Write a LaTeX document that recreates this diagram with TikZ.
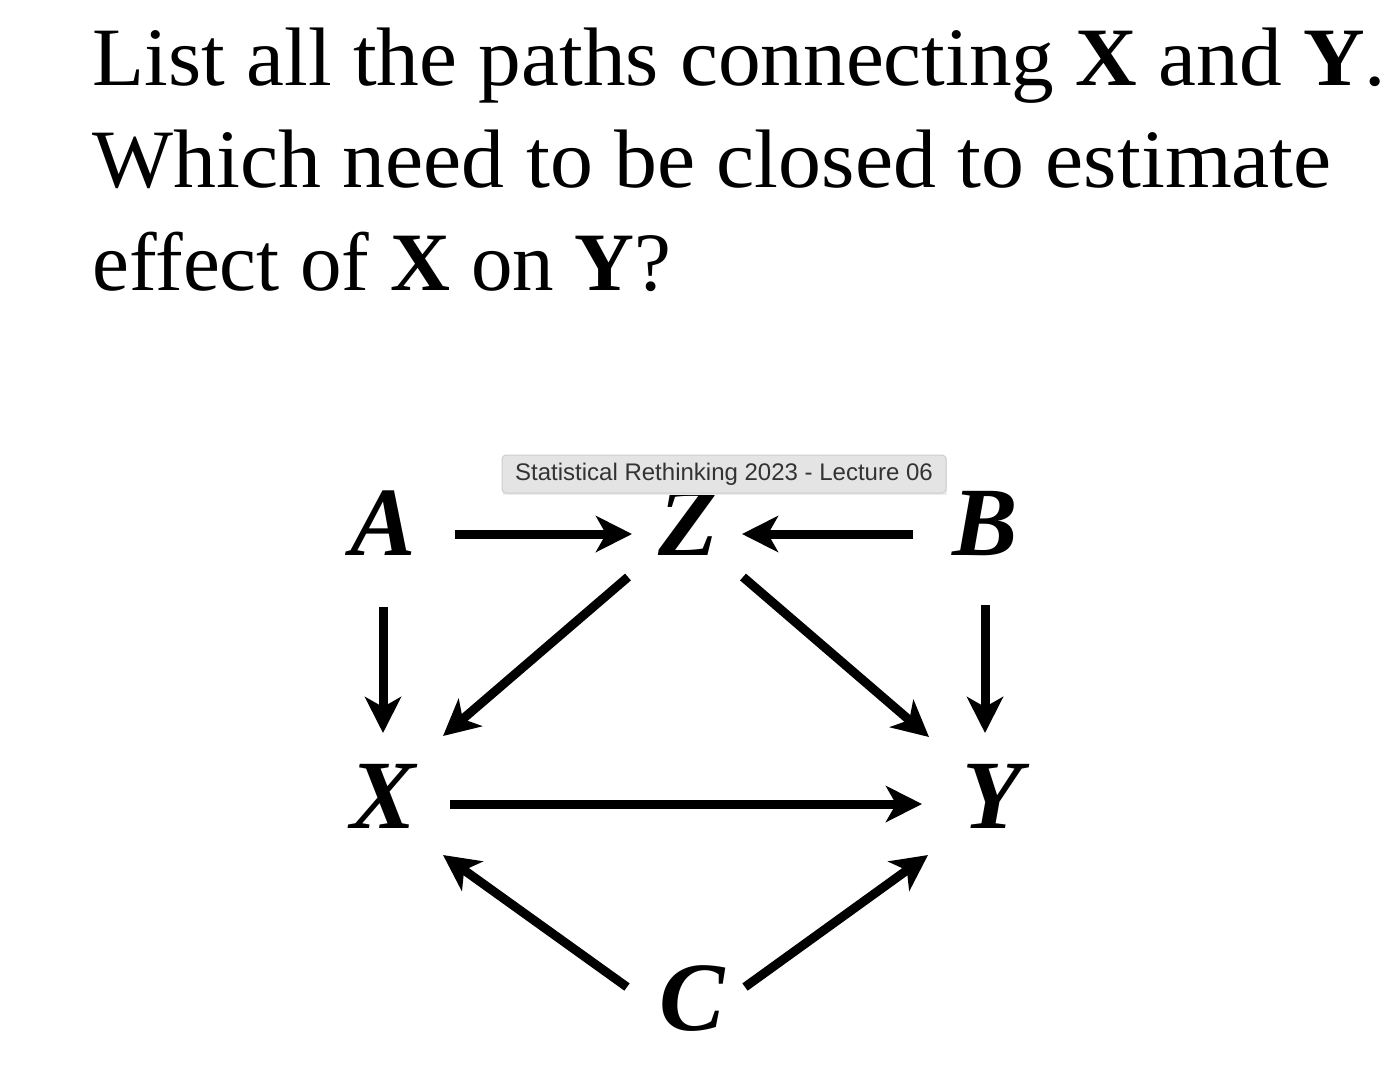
\documentclass[tikz,border=0pt]{standalone}
\usepackage{fontspec}
\setmainfont{Liberation Serif}
\newfontfamily\tipfont{Liberation Sans}
\usetikzlibrary{arrows.meta,calc}
\definecolor{tipfill}{HTML}{E4E4E4}
\definecolor{tipline}{HTML}{CDCDCD}
\definecolor{tiptext}{HTML}{333333}
\begin{document}
\begin{tikzpicture}[x=0.5pt,y=-0.5pt,
  titleline/.style={anchor=base west, inner sep=0pt, font=\fontsize{41.5}{50}\selectfont},
  var/.style={anchor=base, inner sep=0pt, font=\fontsize{49}{58}\selectfont\bfseries\itshape},
  arr/.style={line width=4.5pt, -{Stealth[length=18pt,width=18pt,inset=5pt]}},
  tipbox/.style={draw=tipline, line width=0.5pt, fill=tipfill, rounded corners=2pt,
    minimum width=222pt, minimum height=19pt, inner sep=0pt,
    text=tiptext, font=\tipfont\fontsize{12}{14}\selectfont}]
\useasboundingbox (0,0) rectangle (1400,1084);
\fill[white] (0,0) rectangle (1400,1084);

\node[titleline] (t1) at (92,85) {\scalebox{1.028}[1]{List all the paths connecting \textbf{X} and \textbf{Y}.}};
\node[titleline] (t2) at (92,187) {\scalebox{1.034}[1]{Which need to be closed to estimate}};
\node[titleline] (t3) at (92,290) {\scalebox{1.0}[1]{effect of \textbf{X} on \textbf{Y}?}};

\node[var] (A) at (383,555) {A};
\node[var] (Z) at (688,555) {Z};
\node[var] (B) at (985,555) {B};
\node[var] (X) at (383,828) {X};
\node[var] (Y) at (992,828) {Y};
\node[var] (C) at (692,1030) {C};

\draw[arr] ($(A.base)+(72,-21)$) -- ($(Z.base)+(-56,-21)$);
\draw[arr] ($(B.base)+(-72,-21)$) -- ($(Z.base)+(54,-21)$);
\draw[arr] ($(A.base)+(0,52)$) -- ($(X.base)+(0,-95)$);
\draw[arr] ($(B.base)+(0,50)$) -- ($(Y.base)+(-7,-95)$);
\draw[arr] ($(Z.base)+(-60,22)$) -- ($(X.base)+(60,-92)$);
\draw[arr] ($(Z.base)+(55,22)$) -- ($(Y.base)+(-63,-91)$);
\draw[arr] ($(X.base)+(67,-24)$) -- ($(Y.base)+(-70,-24)$);
\draw[arr] ($(C.base)+(-65,-43)$) -- ($(X.base)+(60,27)$);
\draw[arr] ($(C.base)+(53,-43)$) -- ($(Y.base)+(-64,27)$);

\fill[black!7] (503,457) rectangle (947,495);
\node[tipbox] (tip) at (724,474) {Statistical Rethinking 2023 - Lecture 06};
\end{tikzpicture}
\end{document}
